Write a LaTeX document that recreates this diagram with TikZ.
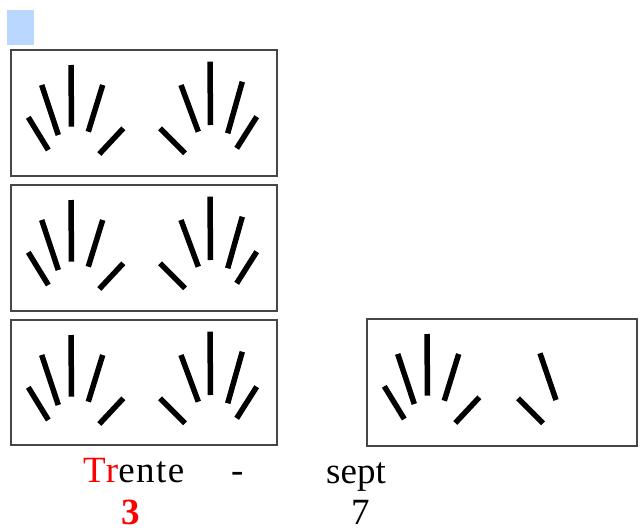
\documentclass[tikz,border=0pt]{standalone}
\usepackage{fontspec}
\setmainfont{Liberation Serif}
\definecolor{lightsq}{RGB}{186,216,255}
\definecolor{frame}{RGB}{70,70,70}
\tikzset{
  framebox/.style={draw=frame, line width=1.6pt},
  stroke/.style={line width=5.5pt, line cap=butt, black},
  lbl/.style={font=\fontsize{37}{40}\selectfont, inner sep=0pt, anchor=base west},
  lefthand/.pic={
    \draw[stroke] (17.3,67.3) -- (37.3,100);
    \draw[stroke] (30.7,35) -- (47.3,85);
    \draw[stroke] (60,15) -- (60.5,76.7);
    \draw[stroke] (91.7,35) -- (77.3,81.7);
    \draw[stroke] (112.3,78.3) -- (88.3,104);
  },
  righthand/.pic={
    \draw[stroke] (149,78.3) -- (174,103.3);
    \draw[stroke] (170,35) -- (187.3,81.7);
    \draw[stroke] (199,11.7) -- (199.5,75);
    \draw[stroke] (231.3,31.7) -- (216.7,83.3);
    \draw[stroke] (245.7,66.7) -- (225.7,98.3);
  },
  twofingers/.pic={
    \draw[stroke] (151,79.3) -- (176,104.3);
    \draw[stroke] (173,34.3) -- (189,81);
  }
}
\begin{document}
\begin{tikzpicture}[x=1pt,y=-1pt]
\useasboundingbox (0,0) rectangle (641,528);
% blue square
\fill[lightsq] (7,10) rectangle (34,45);
% boxes
\draw[framebox] (11,50) rectangle (277,176);
\draw[framebox] (11,185) rectangle (277,311);
\draw[framebox] (11,320) rectangle (277,445);
\draw[framebox] (367,319) rectangle (637,446);
% hands
\pic at (11,50) {lefthand};
\pic at (11,50) {righthand};
\pic at (11,185) {lefthand};
\pic at (11,185) {righthand};
\pic at (11,320) {lefthand};
\pic at (11,320) {righthand};
\pic at (367,319) {lefthand};
\pic at (367,319) {twofingers};
% texts
\node[lbl] (trente) at (83,482) {\addfontfeature{LetterSpace=4}\textcolor{red}{Tr}ente};
\node[lbl] (dash) at (231,482) {-};
\node[lbl] (sept) at (326,483) {sept};
\node[lbl, text=red] (three) at (121,524) {\textbf{3}};
\node[lbl] (seven) at (351,524) {7};
\end{tikzpicture}
\end{document}
